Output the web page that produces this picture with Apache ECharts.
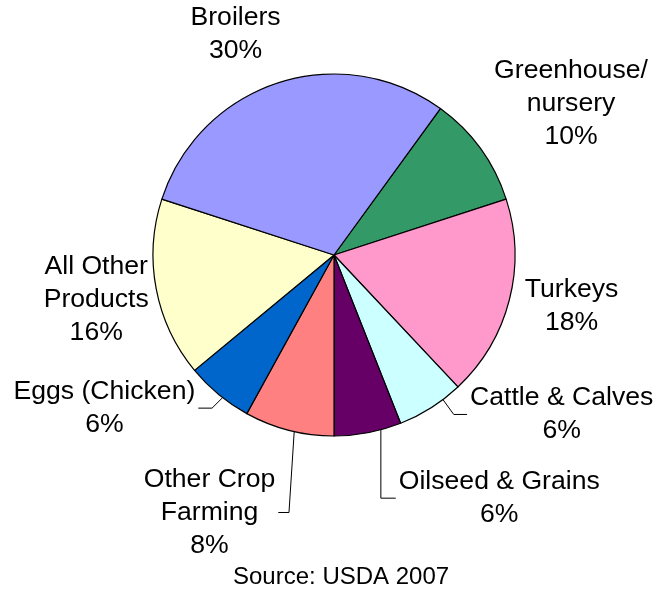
<!DOCTYPE html>
<html>
<head>
<meta charset="utf-8">
<script src="https://cdn.jsdelivr.net/npm/echarts@6/dist/echarts.min.js"></script>
<style>
  html, body { margin: 0; padding: 0; background: #fff; }
  #chart { width: 657px; height: 592px; }
</style>
</head>
<body>
<div id="chart"></div>
<script>
// Farm product categories, listed clockwise starting from Greenhouse/nursery
const categories = [
  'Greenhouse/\nnursery',
  'Turkeys',
  'Cattle & Calves',
  'Oilseed & Grains',
  'Other Crop\nFarming',
  'Eggs (Chicken)',
  'All Other\nProducts',
  'Broilers'
];
// Share of sales, percent
const shares = [10, 18, 6, 6, 8, 6, 16, 30];
const sliceColors = ['#339966', '#FF99CC', '#CCFFFF', '#660066', '#FF8080', '#0066CC', '#FFFFCC', '#9999FF'];
const sourceNote = 'Source: USDA 2007';

// Geometry of the pie
const CENTER = [334, 255];
const RADIUS = 181;
const START_ANGLE = 54;
const FONT = "'Liberation Sans', Arial, Helvetica, sans-serif";

// Label placement: [angular offset from the slice's mid-angle (deg), distance from centre (px)]
const labelPlacement = [
  [3.5, 281], [-2.3, 243], [-22.6, 278], [-23.4, 294],
  [11.4, 286], [16.7, 276], [0.1, 242], [-6, 242]
];
// Leader lines: edge angle offset from mid-angle, heading of the first segment (deg clockwise from 12 o'clock)
const leaders = {
  2: { edge: -4.6, dir: 144 },
  3: { edge: -4.2, dir: 180 },
  4: { edge: -1.7, dir: 183.7 },
  5: { edge: -1.6, dir: 225 }
};

const total = shares.reduce((a, b) => a + b, 0);
const midAngles = [];
let acc = 0;
shares.forEach(v => {
  midAngles.push(90 - START_ANGLE + (acc + v / 2) / total * 360);
  acc += v;
});

function polar(r, deg) {
  const a = deg * Math.PI / 180;
  return [CENTER[0] + r * Math.sin(a), CENTER[1] - r * Math.cos(a)];
}

const chart = echarts.init(document.getElementById('chart'), null, { renderer: 'canvas' });

chart.setOption({
  animation: false,
  backgroundColor: '#ffffff',
  title: {
    text: sourceNote,
    left: 228,
    top: 560,
    padding: 5,
    textStyle: { fontFamily: FONT, fontSize: 24, fontWeight: 'normal', color: '#000' }
  },
  series: [{
    type: 'pie',
    center: CENTER,
    radius: RADIUS,
    startAngle: START_ANGLE,
    clockwise: true,
    avoidLabelOverlap: false,
    emphasis: { disabled: true },
    itemStyle: { borderColor: '#000', borderWidth: 1.2 },
    label: {
      show: true,
      position: 'outside',
      formatter: p => p.name + '\n' + p.value + '%',
      fontFamily: FONT,
      fontSize: 26.6,
      lineHeight: 33,
      color: '#000'
    },
    labelLine: {
      show: true,
      lineStyle: { color: '#000', width: 1 }
    },
    labelLayout: params => {
      const i = params.dataIndex;
      const [off, dist] = labelPlacement[i];
      const [lx, ly] = polar(dist, midAngles[i] + off);
      const out = { x: lx, y: ly, align: 'center', verticalAlign: 'middle' };
      const ld = leaders[i];
      if (ld) {
        const p0 = polar(RADIUS, midAngles[i] + ld.edge);
        const d = ld.dir * Math.PI / 180;
        const ux = Math.sin(d), uy = -Math.cos(d);
        const t = (ly - p0[1]) / uy;
        const p1 = [p0[0] + ux * t, ly];
        const halfW = params.labelRect.width / 2;
        const side = p1[0] > lx ? 1 : -1;
        const p2 = [lx + side * (halfW + 3), ly];
        out.labelLinePoints = [p0, p1, p2];
      }
      return out;
    },
    data: categories.map((name, i) => ({
      name: name,
      value: shares[i],
      itemStyle: { color: sliceColors[i] },
      labelLine: { show: !!leaders[i] }
    }))
  }]
});
</script>
</body>
</html>
